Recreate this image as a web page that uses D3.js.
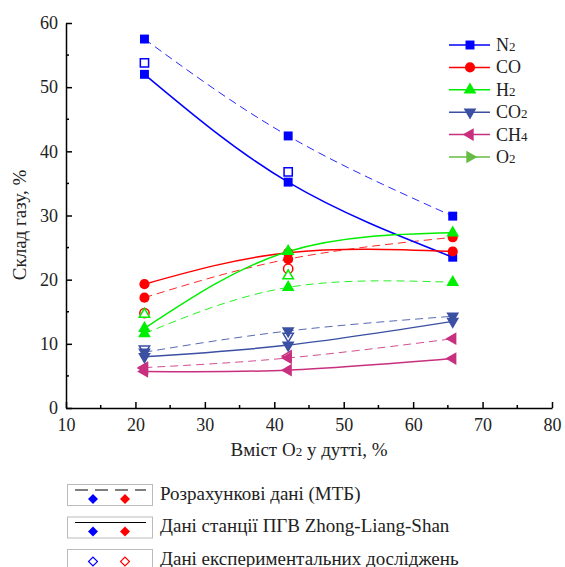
<!DOCTYPE html>
<html>
<head>
<meta charset="utf-8">
<script src="https://cdn.jsdelivr.net/npm/d3@7"></script>
</head>
<body style="margin:0">
<svg id="chart" width="565" height="567"></svg>
<script>
// data
var xVals = [21.3, 42.0, 65.7];
var xExp = [21.3, 42.0];
var gases = ['N', 'CO', 'H', 'CO', 'CH', 'O'];
var gasSub = ['2', '', '2', '2', '4', '2'];

// calculated (dashed)
var calcN2 = [57.5, 42.4, 29.9];
var calcCO = [17.2, 23.2, 26.6];
var calcH2 = [11.6, 18.8, 19.6];
var calcCO2 = [8.7, 12.0, 14.3];
var calcCH4 = [6.3, 7.8, 10.8];

// station data (solid)
var stN2 = [52.0, 35.2, 23.5];
var stCO = [19.3, 24.2, 24.4];
var stH2 = [12.4, 24.4, 27.3];
var stCO2 = [8.0, 9.8, 13.5];
var stCH4 = [5.7, 5.9, 7.7];

// experimental (open markers)
var expN2 = [53.8, 36.8];
var expCO = [14.8, 21.7];
var expH2 = [14.6, 20.6];
var expCO2 = [9.2, 11.2];
var expCH4 = [6.2, 8.1];

var xTicks = [10, 20, 30, 40, 50, 60, 70, 80];
var yTicks = [0, 10, 20, 30, 40, 50, 60];
var legendLabels = ['Розрахункові дані (МТБ)', 'Дані станції ПГВ Zhong-Liang-Shan', 'Дані експериментальних досліджень'];

var colors = ['#0000ff', '#ff0000', '#00ee00', '#3b4fa3', '#c8307f', '#66bb44'];
var shapes = ['square', 'circle', 'up', 'down', 'left', 'right'];

var margin = {top: 23, left: 66, right: 13, bottom: 159};
var width = 565 - margin.left - margin.right;
var height = 567 - margin.top - margin.bottom;

var x = d3.scaleLinear().domain([10, 80]).range([0, width]);
var y = d3.scaleLinear().domain([0, 60]).range([height, 0]);

var svg = d3.select('#chart');
var chart = svg.append('g')
  .attr('transform', 'translate(' + margin.left + ',' + margin.top + ')');

function symType(shape) {
  return shape == 'square' ? d3.symbolSquare : shape == 'circle' ? d3.symbolCircle : d3.symbolTriangle;
}
function symRot(shape) {
  return {up: 0, down: 180, left: -90, right: 90}[shape] || 0;
}

// axes
var xAxis = d3.axisBottom(x).tickValues(xTicks).tickSizeInner(-6).tickSizeOuter(0).tickPadding(10);
var yAxis = d3.axisLeft(y).tickValues(yTicks).tickSizeInner(-6).tickSizeOuter(0).tickPadding(8);

chart.append('g').attr('class', 'x axis')
  .attr('transform', 'translate(0,' + height + ')')
  .call(xAxis);
chart.append('g').attr('class', 'y axis')
  .call(yAxis);

// minor ticks
chart.append('g').selectAll('line').data(d3.range(15, 80, 10)).enter().append('line')
  .attr('x1', d => x(d)).attr('x2', d => x(d))
  .attr('y1', height).attr('y2', height - 3)
  .attr('stroke', '#000').attr('stroke-width', 1.5);
chart.append('g').selectAll('line').data(d3.range(5, 60, 10)).enter().append('line')
  .attr('y1', d => y(d)).attr('y2', d => y(d))
  .attr('x1', 0).attr('x2', 3)
  .attr('stroke', '#000').attr('stroke-width', 1.5);

chart.selectAll('.axis path, .axis line').attr('stroke', '#000').attr('stroke-width', 1.5);
chart.selectAll('.axis text').attr('font-size', 18).attr('fill', '#222');

// axis titles
svg.append('text')
  .attr('transform', 'translate(26,225) rotate(-90)')
  .attr('text-anchor', 'middle')
  .attr('font-size', 19).attr('fill', '#222')
  .text('Склад газу, %');

var xt = svg.append('text')
  .attr('x', margin.left + width / 2).attr('y', 456)
  .attr('text-anchor', 'middle')
  .attr('font-size', 19).attr('fill', '#222');
xt.append('tspan').text('Вміст O');
xt.append('tspan').attr('font-size', 13).text('2');
xt.append('tspan').text(' у дутті, %');

// lines
var line = d3.line().x((d, i) => x(xVals[i])).y(d => y(d)).curve(d3.curveNatural);
var calc = [calcN2, calcCO, calcH2, calcCO2, calcCH4];
var st = [stN2, stCO, stH2, stCO2, stCH4];
var exp = [expN2, expCO, expH2, expCO2, expCH4];

calc.forEach(function(s, k) {
  chart.append('path').datum(s).attr('d', line)
    .attr('fill', 'none').attr('stroke', colors[k]).attr('stroke-width', 1)
    .attr('stroke-dasharray', '8,5').attr('opacity', 0.85);
});
st.forEach(function(s, k) {
  chart.append('path').datum(s).attr('d', line)
    .attr('fill', 'none').attr('stroke', colors[k]).attr('stroke-width', 1.5);
});

// markers
function drawPoints(series, xs, filled) {
  series.forEach(function(s, k) {
    s.forEach(function(v, i) {
      var size = shapes[k] == 'square' || shapes[k] == 'circle' ? 80 : (filled ? 70 : 55);
      chart.append('path')
        .attr('d', d3.symbol().type(symType(shapes[k])).size(filled ? size : size * 0.85))
        .attr('transform', 'translate(' + x(xs[i]) + ',' + y(v) + ') rotate(' + symRot(shapes[k]) + ')')
        .attr('fill', filled ? colors[k] : '#fff')
        .attr('stroke', colors[k])
        .attr('stroke-width', filled ? 0 : 1.5);
    });
  });
}
drawPoints(exp, xExp, false);
drawPoints(calc, xVals, true);
drawPoints(st, xVals, true);

// legend, top right
var leg = svg.append('g');
gases.forEach(function(name, k) {
  var ly = 45 + k * 22.4;
  leg.append('line').attr('x1', 449).attr('x2', 490).attr('y1', ly).attr('y2', ly)
    .attr('stroke', colors[k]).attr('stroke-width', 1.5);
  leg.append('path')
    .attr('d', d3.symbol().type(symType(shapes[k])).size(shapes[k] == 'square' || shapes[k] == 'circle' ? 80 : 70))
    .attr('transform', 'translate(470,' + ly + ') rotate(' + symRot(shapes[k]) + ')')
    .attr('fill', colors[k]);
  var t = leg.append('text').attr('x', 496).attr('y', ly + 6).attr('font-size', 18).attr('fill', '#222');
  t.append('tspan').text(name);
  t.append('tspan').attr('font-size', 13).text(gasSub[k]);
});

// legend, bottom
var bl = svg.append('g');
legendLabels.forEach(function(label, k) {
  var by = 484 + k * 32.5;
  bl.append('rect').attr('x', 67.5).attr('y', by + 0.5).attr('width', 85).attr('height', 21)
    .attr('fill', '#fff').attr('stroke', '#bbb').attr('stroke-width', 1);
  if (k < 2) {
    bl.append('line').attr('x1', 75).attr('x2', 146).attr('y1', by + 6).attr('y2', by + 6)
      .attr('stroke', '#000').attr('stroke-width', 1.2)
      .attr('stroke-dasharray', k == 0 ? '13,7' : null);
  }
  [93, 125].forEach(function(dx, j) {
    var c = j == 0 ? '#0000ff' : '#ff0000';
    bl.append('path').attr('d', d3.symbol().type(d3.symbolSquare).size(k < 2 ? 50 : 40))
      .attr('transform', 'translate(' + dx + ',' + (by + (k < 2 ? 15 : 12.5)) + ') rotate(45)')
      .attr('fill', k < 2 ? c : '#fff').attr('stroke', c).attr('stroke-width', k < 2 ? 0 : 1.2);
  });
  bl.append('text').attr('x', 160).attr('y', by + 15.5).attr('font-size', 19).attr('fill', '#222').text(label);
});

// font on every text, set last
svg.selectAll('text').style('font-family', "'Liberation Serif'");
</script>
</body>
</html>
